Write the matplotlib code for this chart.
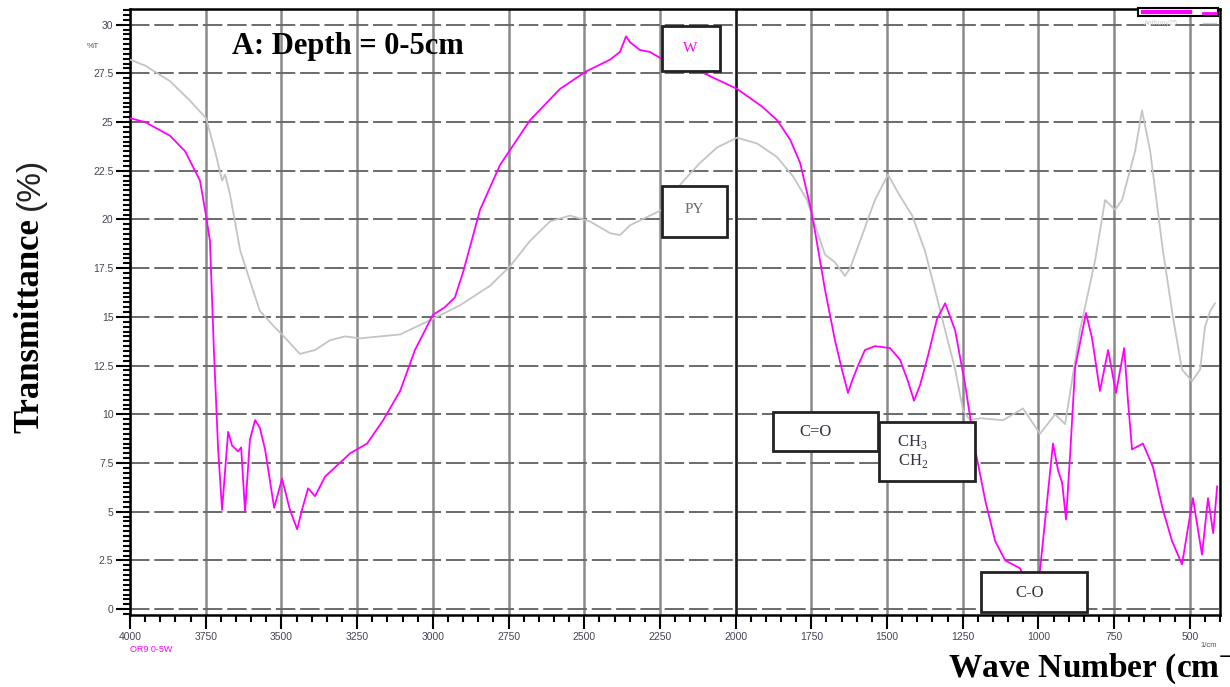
import matplotlib
matplotlib.use("Agg")
import matplotlib.pyplot as plt
from matplotlib.patches import Rectangle
from matplotlib.ticker import MultipleLocator

# W sample (magenta) - wavenumber (1/cm) and transmittance (%)
wn_w = [4000, 3950, 3868, 3818, 3769, 3749, 3736, 3723, 3709, 3696,
        3676, 3663, 3643, 3633, 3620, 3604, 3587, 3571, 3554, 3538,
        3524, 3498, 3472, 3448, 3432, 3412, 3389, 3356, 3273, 3217,
        3164, 3108, 3059, 3000, 2960, 2927, 2900, 2844, 2778, 2679,
        2580, 2494, 2415, 2382, 2362, 2349, 2316, 2283, 2250, 2200,
        2118, 1995, 1913, 1863, 1820, 1787, 1754, 1738, 1705, 1672,
        1649, 1629, 1616, 1596, 1573, 1540, 1490, 1457, 1431, 1411,
        1391, 1365, 1335, 1308, 1275, 1242, 1209, 1176, 1143, 1110,
        1061, 1035, 1010, 995, 952, 935, 922, 909, 896, 879,
        856, 843, 823, 797, 770, 744, 717, 704, 691, 655,
        622, 589, 559, 526, 490, 460, 440, 423, 410]
t_w = [25.2, 25.0, 24.3, 23.5, 22.0, 20.2, 18.9, 13.3, 8.2, 5.1,
       9.1, 8.4, 8.1, 8.3, 5.0, 8.7, 9.7, 9.3, 8.2, 6.6,
       5.2, 6.7, 5.1, 4.1, 5.1, 6.2, 5.8, 6.8, 8.0, 8.5,
       9.7, 11.2, 13.3, 15.1, 15.5, 16.0, 17.3, 20.5, 22.8, 25.1,
       26.7, 27.6, 28.2, 28.6, 29.4, 29.1, 28.7, 28.6, 28.3, 28.0,
       27.6, 26.7, 25.8, 25.1, 24.1, 22.9, 20.7, 19.4, 16.4, 13.8,
       12.3, 11.1, 11.7, 12.5, 13.3, 13.5, 13.4, 12.8, 11.7, 10.7,
       11.5, 13.0, 14.9, 15.7, 14.3, 11.5, 8.2, 5.6, 3.5, 2.5,
       2.1, 1.2, 1.0, 2.0, 8.5, 7.1, 6.5, 4.6, 7.8, 12.4,
       14.2, 15.2, 13.9, 11.2, 13.3, 11.1, 13.4, 10.6, 8.2, 8.5,
       7.3, 5.1, 3.5, 2.3, 5.7, 2.8, 5.7, 3.9, 6.3]

# PY sample (grey)
wn_py = [4000, 3950, 3868, 3802, 3749, 3719, 3696, 3686, 3670, 3636,
         3603, 3571, 3524, 3498, 3439, 3389, 3340, 3290, 3240, 3108,
         3000, 2910, 2811, 2745, 2679, 2613, 2547, 2481, 2415, 2382,
         2349, 2283, 2243, 2177, 2118, 2061, 1995, 1929, 1863, 1810,
         1764, 1731, 1705, 1672, 1639, 1622, 1589, 1540, 1497, 1457,
         1417, 1375, 1342, 1308, 1275, 1249, 1226, 1193, 1117, 1051,
         995, 945, 912, 863, 813, 780, 747, 724, 681, 658,
         631, 589, 556, 526, 493, 466, 450, 433, 417]
t_py = [28.2, 27.9, 27.1, 26.1, 25.2, 23.5, 22.0, 22.3, 21.3, 18.4,
        16.8, 15.3, 14.5, 14.1, 13.1, 13.3, 13.8, 14.0, 13.9, 14.1,
        14.9, 15.6, 16.6, 17.6, 18.9, 19.9, 20.2, 19.9, 19.3, 19.2,
        19.7, 20.2, 20.5, 21.9, 22.9, 23.7, 24.2, 23.9, 23.2, 22.2,
        21.0, 19.4, 18.2, 17.8, 17.1, 17.5, 18.9, 21.0, 22.3, 21.2,
        20.2, 18.4, 16.4, 14.3, 12.3, 10.2, 9.7, 9.8, 9.7, 10.3,
        9.0, 10.0, 9.5, 14.3, 17.9, 21.0, 20.5, 21.0, 23.5, 25.6,
        23.5, 18.4, 15.0, 12.3, 11.7, 12.3, 14.5, 15.3, 15.7]

x_ticks = [4000, 3750, 3500, 3250, 3000, 2750, 2500, 2250, 2000, 1750, 1500, 1250, 1000, 750, 500]
y_ticks = [0, 2.5, 5, 7.5, 10, 12.5, 15, 17.5, 20, 22.5, 25, 27.5, 30]
y_labels = ["0", "2.5", "5", "7.5", "10", "12.5", "15", "17.5", "20", "22.5", "25", "27.5", "30"]

serif = "Liberation Serif"
sans = "Liberation Sans"

plt.rcParams["mathtext.fontset"] = "custom"
plt.rcParams["mathtext.rm"] = "Liberation Serif"
plt.rcParams["mathtext.bf"] = "Liberation Serif:bold"

fig = plt.figure(figsize=(12.3, 6.87), dpi=100)
ax = fig.add_axes([0.1057, 0.1048, 0.8863, 0.882])

ax.set_xlim(4000, 400)
ax.set_ylim(-0.3, 30.8)
ax.set_axisbelow(True)

# grid: solid verticals, dashed horizontals
ax.set_xticks(x_ticks)
ax.set_yticks(y_ticks)
ax.xaxis.set_minor_locator(MultipleLocator(50))
ax.yaxis.set_minor_locator(MultipleLocator(0.25))
ax.xaxis.grid(True, color="#8a8a8a", linewidth=1.8, linestyle="-")
ax.yaxis.grid(True, color="#6a6a6a", linewidth=1.4, linestyle=(0, (10, 2.5)))
ax.axvline(2000, color="#1a1a1a", linewidth=1.8, zorder=1)

ax.tick_params(axis="both", which="major", direction="out", length=10, width=1.5,
               labelsize=7.5, labelcolor="#454555", color="black", pad=2)
ax.tick_params(axis="both", which="minor", direction="out", length=5, width=1.5, color="black")
ax.set_yticklabels(y_labels, family=sans)
ax.set_xticklabels([str(v) for v in x_ticks], family=sans)

for s in ax.spines.values():
    s.set_color("black")
    s.set_linewidth(1.8)

ax.plot(wn_py, t_py, color="#c4c4c4", linewidth=1.3, zorder=3)
ax.plot(wn_w, t_w, color="#ff00ff", linewidth=1.3, zorder=4)


def box(x0, x1, y0, y1):
    ax.add_patch(Rectangle((x0, y0), x1 - x0, y1 - y0, facecolor="white",
                           edgecolor="#222222", linewidth=2, zorder=6, clip_on=False))


# annotation boxes
box(2243, 2052, 27.6, 29.95)
ax.text(2150, 28.8, "W", color="#ff00ff", fontsize=11, family=serif, ha="center", va="center", zorder=7)
box(2243, 2028, 19.1, 21.7)
ax.text(2136, 20.5, "PY", color="#6b6b6b", fontsize=11, family=serif, ha="center", va="center", zorder=7)
box(1876, 1530, 8.1, 10.1)
ax.text(1735, 9.1, "C=O", color="#333344", fontsize=12, family=serif, ha="center", va="center", zorder=7)
box(1526, 1209, 6.6, 9.6)
ax.text(1415, 8.1, "CH$_3$\nCH$_2$", color="#333344", fontsize=12, family=serif,
        ha="center", va="center", linespacing=1.1, zorder=7)
box(1190, 840, -0.15, 1.9)
ax.text(1030, 0.85, "C-O", color="#333344", fontsize=12, family=serif, ha="center", va="center", zorder=7)

ax.text(3663, 28.9, "A: Depth = 0-5cm", fontsize=22, fontweight="bold", family=serif,
        ha="left", va="center", zorder=7)

# small legend box in the top right corner
ax.add_patch(Rectangle((0.925, 0.988), 0.073, 0.014, transform=ax.transAxes, facecolor="white",
                       edgecolor="black", linewidth=1.5, clip_on=False, zorder=8))
ax.plot([0.929, 0.972], [0.995, 0.995], transform=ax.transAxes, color="#ff00ff", linewidth=3,
        clip_on=False, zorder=9)
ax.plot([0.984, 0.996], [0.994, 0.994], transform=ax.transAxes, color="#ff00ff", linewidth=2,
        clip_on=False, zorder=9)
ax.text(0.93, 0.977, "Anthony25", transform=ax.transAxes, fontsize=5, color="#cccccc",
        family=sans, va="center", zorder=9)
ax.plot([0.984, 0.996], [0.977, 0.977], transform=ax.transAxes, color="#cccccc", linewidth=1, zorder=9)

# extra labels
fig.text(0.0756, 0.932, "%T", fontsize=6, color="#555555", family=sans, ha="center", va="center")
fig.text(0.983, 0.061, "1/cm", fontsize=5.5, color="#555555", family=sans, ha="center", va="center")
fig.text(0.106, 0.055, "OR9 0-5W", fontsize=6.5, color="#ff00ff", family=sans, ha="left", va="center")

fig.text(0.024, 0.369, "Transmittance", rotation=90, fontsize=25, fontweight="bold", family=serif,
         ha="center", va="bottom")
fig.text(0.025, 0.694, "(%)", rotation=90, fontsize=24, family=sans, color="#222222",
         ha="center", va="bottom")

fig.text(0.771, 0.013, r"Wave Number (cm$^{\mathbf{-1}}$)", fontsize=24, fontweight="bold",
         family=serif, ha="left", va="baseline")

fig.savefig("out.png", dpi=100)
